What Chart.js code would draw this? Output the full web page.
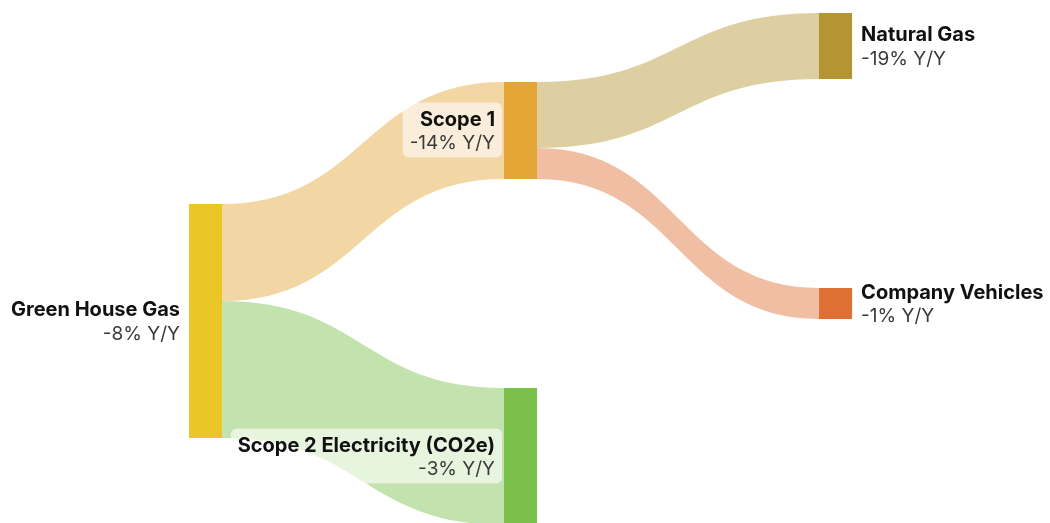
<!DOCTYPE html>
<html>
<head>
<meta charset="utf-8">
<script src="https://cdn.jsdelivr.net/npm/chart.js@4.4.1/dist/chart.umd.min.js"></script>
<style>
body { margin: 0; background: #fff; }
#wrap { width: 1050px; height: 523px; }
</style>
</head>
<body>
<div id="wrap"><canvas id="sankey"></canvas></div>
<script>
// nodes
const nodeNames = ["Green House Gas", "Scope 1", "Scope 2 Electricity (CO2e)", "Natural Gas", "Company Vehicles"];
const nodeChange = ["-8% Y/Y", "-14% Y/Y", "-3% Y/Y", "-19% Y/Y", "-1% Y/Y"];
const nodeColumn = [0, 1, 1, 2, 2];
const nodeTop = [204, 82, 388, 13, 288];   // start of each node on the value axis
const nodeColors = ["#ebc627", "#e3a535", "#7bc04b", "#b59433", "#de7034"];

// flows
const flowFrom = [0, 0, 1, 1];
const flowTo = [1, 2, 3, 4];
const flowValues = [97, 137, 66, 31];

const NODE_W = 0.105;   // node width in column units

function nodeSize(i) {
    let inSum = 0, outSum = 0;
    flowValues.forEach((v, f) => {
        if (flowTo[f] === i) inSum += v;
        if (flowFrom[f] === i) outSum += v;
    });
    return Math.max(inSum, outSum);
}

function withAlpha(hex, a) {
    const n = parseInt(hex.slice(1), 16);
    return `rgba(${n >> 16}, ${(n >> 8) & 255}, ${n & 255}, ${a})`;
}

const sankeyPlugin = {
    id: 'sankey',
    beforeDatasetsDraw(chart) {
        const { ctx, scales: { x, y } } = chart;
        const outOffset = nodeNames.map(() => 0);
        const inOffset = nodeNames.map(() => 0);

        // flows
        flowValues.forEach((v, f) => {
            const s = flowFrom[f], t = flowTo[f];
            const x0 = x.getPixelForValue(nodeColumn[s] + NODE_W);
            const x1 = x.getPixelForValue(nodeColumn[t]);
            const sy0 = y.getPixelForValue(nodeTop[s] + outOffset[s]);
            const sy1 = y.getPixelForValue(nodeTop[s] + outOffset[s] + v);
            const ty0 = y.getPixelForValue(nodeTop[t] + inOffset[t]);
            const ty1 = y.getPixelForValue(nodeTop[t] + inOffset[t] + v);
            outOffset[s] += v;
            inOffset[t] += v;
            const xm = (x0 + x1) / 2;
            ctx.save();
            ctx.beginPath();
            ctx.moveTo(x0, sy0);
            ctx.bezierCurveTo(xm, sy0, xm, ty0, x1, ty0);
            ctx.lineTo(x1, ty1);
            ctx.bezierCurveTo(xm, ty1, xm, sy1, x0, sy1);
            ctx.closePath();
            ctx.fillStyle = withAlpha(nodeColors[t], 0.45);
            ctx.fill();
            ctx.restore();
        });

        // nodes
        nodeNames.forEach((name, i) => {
            const left = x.getPixelForValue(nodeColumn[i]);
            const right = x.getPixelForValue(nodeColumn[i] + NODE_W);
            const top = y.getPixelForValue(nodeTop[i]);
            const bottom = y.getPixelForValue(nodeTop[i] + nodeSize(i));
            ctx.fillStyle = nodeColors[i];
            ctx.fillRect(left, top, right - left, bottom - top);
        });

        // labels
        nodeNames.forEach((name, i) => {
            const left = x.getPixelForValue(nodeColumn[i]);
            const right = x.getPixelForValue(nodeColumn[i] + NODE_W);
            const mid = y.getPixelForValue(nodeTop[i] + nodeSize(i) / 2);
            const onRight = nodeColumn[i] === 2;
            ctx.save();
            ctx.font = "bold 20px Inter";
            const w1 = ctx.measureText(name).width;
            ctx.font = "19px Inter";
            const w2 = ctx.measureText(nodeChange[i]).width;
            const w = Math.max(w1, w2);
            const tx = onRight ? right + 9 : left - 9;
            if (!onRight) {
                ctx.fillStyle = "rgba(255, 255, 255, 0.6)";
                ctx.beginPath();
                ctx.roundRect(tx - w - 7, mid - 28, w + 14, 55, 6);
                ctx.fill();
            }
            ctx.textAlign = onRight ? "left" : "right";
            ctx.textBaseline = "middle";
            ctx.fillStyle = "#111";
            ctx.font = "bold 20px Inter";
            ctx.fillText(name, tx, mid - 11);
            ctx.fillStyle = "#3a3a3a";
            ctx.font = "19px Inter";
            ctx.fillText(nodeChange[i], tx, mid + 13);
            ctx.restore();
        });
    }
};

new Chart(document.getElementById("sankey"), {
    type: "scatter",
    data: { datasets: [{ data: [] }] },
    options: {
        responsive: true,
        maintainAspectRatio: false,
        animation: false,
        layout: { padding: 0 },
        plugins: { legend: { display: false }, tooltip: { enabled: false } },
        scales: {
            x: { type: "linear", min: -0.6, max: 2.7333, display: false },
            y: { type: "linear", min: 0, max: 523, reverse: true, display: false }
        }
    },
    plugins: [sankeyPlugin]
});
</script>
</body>
</html>
